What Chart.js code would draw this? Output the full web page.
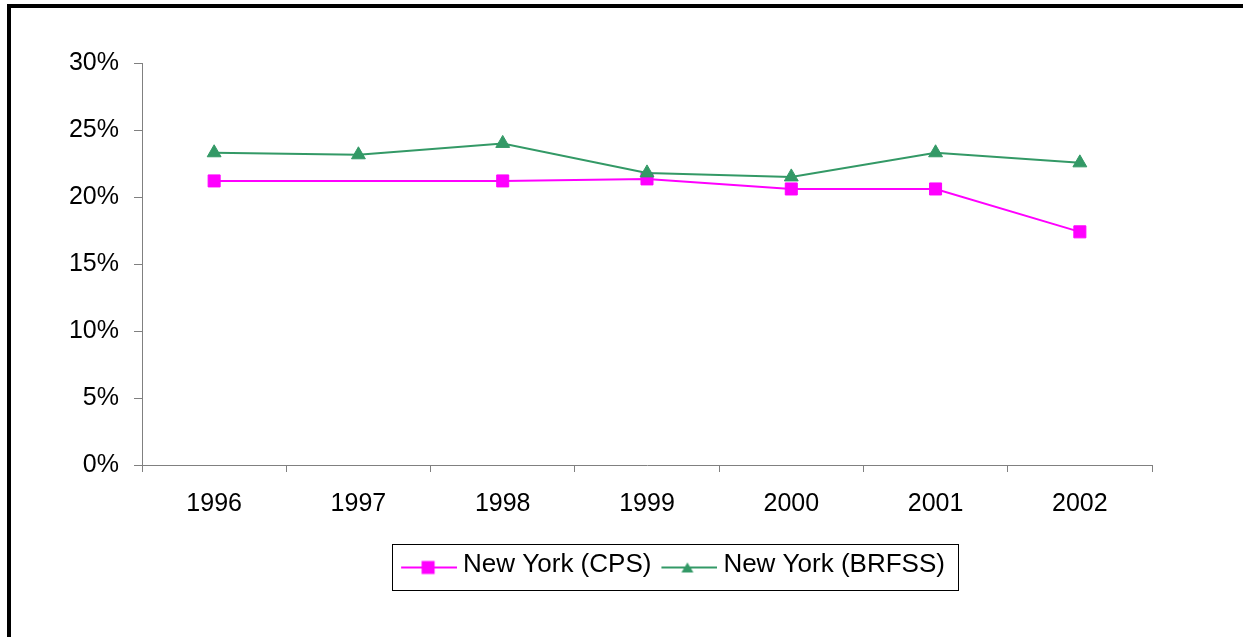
<!DOCTYPE html>
<html>
<head>
<meta charset="utf-8">
<style>
html,body{margin:0;padding:0;background:#fff;overflow:hidden}
#wrap{position:relative;width:1243px;height:637px}
#c{display:block}
#frame{position:absolute;left:7px;top:4px;width:1236px;height:633px;border-top:4px solid #000;border-left:4px solid #000;box-sizing:border-box;pointer-events:none}
</style>
<script src="https://cdn.jsdelivr.net/npm/chart.js@4.4.1/dist/chart.umd.min.js"></script>
</head>
<body>
<div id="wrap"><canvas id="c" width="1243" height="637"></canvas><div id="frame"></div></div>
<script>
// ---- data ----
const years = ['1996', '1997', '1998', '1999', '2000', '2001', '2002'];
const cpsValues = [21.2, null, 21.2, 21.35, 20.6, 20.6, 17.4];
const brfssValues = [23.3, 23.15, 24.0, 21.8, 21.5, 23.3, 22.55];
const seriesNames = ['New York (CPS)', 'New York (BRFSS)'];
const yMin = 0, yMax = 30, yStep = 5;

const CPS_COLOR = '#FF00FF';
const BRFSS_COLOR = '#339966';
const FONT = '"Liberation Sans", Arial, sans-serif';

// legend symbols (line + marker)
function legendSymbol(color, marker) {
  const c = document.createElement('canvas');
  c.width = 63; c.height = 24;
  const g = c.getContext('2d');
  g.strokeStyle = color; g.lineWidth = 2;
  g.beginPath(); g.moveTo(7, 15); g.lineTo(63, 15); g.stroke();
  g.fillStyle = color;
  if (marker === 'square') {
    g.fillRect(34 - 6.5, 15 - 6.5, 13, 13);
  } else {
    g.beginPath();
    g.moveTo(33, 10); g.lineTo(39, 20); g.lineTo(27, 20); g.closePath(); g.fill();
  }
  return c;
}
const cpsSym = legendSymbol(CPS_COLOR, 'square');
const brfssSym = legendSymbol(BRFSS_COLOR, 'triangle');

const legendPlacer = {
  id: 'legendPlacer',
  afterLayout(chart) {
    const lg = chart.legend;
    const h = lg.height;
    lg.top = 541.5; lg.bottom = lg.top + h;
    const w = lg.right - lg.left;
    const c = 673;
    lg.left = c - w / 2; lg.right = c + w / 2;
  },
  afterDraw(chart) {
    const lg = chart.legend;
    const hb = lg.legendHitBoxes;
    if (!hb || !hb.length) return;
    const x0 = Math.round(hb[0].left - 9.5);
    const last = hb[hb.length - 1];
    const x1 = Math.round(last.left + last.width + 13);
    const ctx = chart.ctx;
    ctx.save();
    ctx.strokeStyle = '#000'; ctx.lineWidth = 1;
    ctx.strokeRect(x0 + 0.5, 544.5, x1 - x0, 46);
    ctx.restore();
  }
};

Chart.defaults.font.family = FONT;
Chart.defaults.color = '#000';

new Chart(document.getElementById('c'), {
  type: 'line',
  data: {
    labels: years,
    datasets: [
      {
        label: seriesNames[0], data: cpsValues, order: 1,
        borderColor: CPS_COLOR, backgroundColor: CPS_COLOR, borderWidth: 2,
        pointStyle: 'rect', pointRadius: 8.5, pointBorderWidth: 1,
        pointBackgroundColor: CPS_COLOR, pointBorderColor: CPS_COLOR,
        spanGaps: true, tension: 0, fill: false
      },
      {
        label: seriesNames[1], data: brfssValues, order: 0,
        borderColor: BRFSS_COLOR, backgroundColor: BRFSS_COLOR, borderWidth: 2,
        pointStyle: 'triangle', pointRadius: 8, pointBorderWidth: 1,
        pointBackgroundColor: BRFSS_COLOR, pointBorderColor: BRFSS_COLOR,
        tension: 0, fill: false
      }
    ]
  },
  options: {
    responsive: false,
    animation: false,
    devicePixelRatio: 1,
    events: [],
    layout: { padding: { left: 0, top: 63, right: 91, bottom: 72 } },
    scales: {
      x: {
        type: 'category',
        offset: true,
        grid: { display: true, drawOnChartArea: false, drawTicks: true, tickLength: 7, offset: true, color: '#808080' },
        border: { display: true, color: '#808080', width: 1 },
        ticks: { font: { size: 25, family: FONT }, color: '#000', padding: 17, maxRotation: 0, autoSkip: false },
        afterFit(s) { s.height = 60; }
      },
      y: {
        min: yMin, max: yMax,
        grid: { display: true, drawOnChartArea: false, drawTicks: true, tickLength: 8, color: '#808080' },
        border: { display: true, color: '#808080', width: 1 },
        ticks: { stepSize: yStep, font: { size: 25, family: FONT }, color: '#000', padding: 15,
                 callback: v => v + '%' },
        afterFit(s) { s.width = 142; }
      }
    },
    plugins: {
      tooltip: { enabled: false },
      title: { display: false },
      legend: {
        display: true,
        position: 'bottom',
        maxHeight: 40,
        labels: {
          font: { size: 26, family: FONT },
          color: '#000',
          usePointStyle: true,
          pointStyleWidth: 49,
          padding: 10,
          generateLabels() {
            return [
              { text: seriesNames[0], pointStyle: cpsSym, fillStyle: CPS_COLOR, strokeStyle: CPS_COLOR, lineWidth: 0, hidden: false, datasetIndex: 0, fontColor: '#000' },
              { text: seriesNames[1], pointStyle: brfssSym, fillStyle: BRFSS_COLOR, strokeStyle: BRFSS_COLOR, lineWidth: 0, hidden: false, datasetIndex: 1, fontColor: '#000' }
            ];
          }
        }
      }
    }
  },
  plugins: [legendPlacer]
});
</script>
</body>
</html>
